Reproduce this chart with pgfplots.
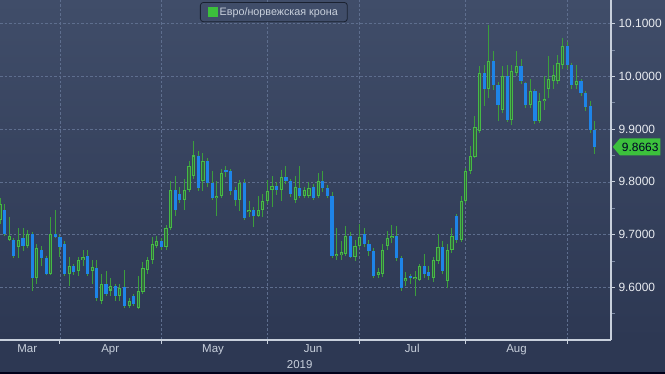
\documentclass[border=0pt]{standalone}
\usepackage{pgfplots}
\pgfplotsset{compat=1.18}
\usepackage{pgfplotstable}
\usepackage{fontspec}
\setmainfont{Liberation Sans}
\usetikzlibrary{shapes.symbols}
\definecolor{bgtop}{HTML}{404D69}
\definecolor{bgbot}{HTML}{2D3853}
\definecolor{gridc}{HTML}{5E6E8E}
\definecolor{upc}{HTML}{46BA46}
\definecolor{upin}{HTML}{35663F}
\definecolor{wickc}{HTML}{3C9E3C}
\definecolor{dnc}{HTML}{1E84E8}
\definecolor{labc}{HTML}{C8D0DC}
\definecolor{ylabc}{HTML}{E8EBF0}
\definecolor{tagc}{HTML}{3CC03C}
\definecolor{legbd}{HTML}{1A2130}

\pgfplotstableread{
k o h l c
0 9.727 9.770 9.720 9.759
2 9.689 9.734 9.687 9.698
4 9.677 9.712 9.655 9.689
6 9.679 9.708 9.674 9.702
8 9.617 9.683 9.607 9.674
11 9.626 9.734 9.624 9.702
15 9.626 9.658 9.603 9.640
17 9.630 9.658 9.621 9.651
18 9.651 9.670 9.641 9.658
20 9.630 9.651 9.607 9.638
22 9.575 9.626 9.569 9.607
24 9.594 9.617 9.584 9.603
26 9.583 9.607 9.575 9.598
28 9.564 9.579 9.560 9.575
30 9.560 9.622 9.558 9.594
31 9.592 9.649 9.588 9.636
32 9.632 9.658 9.626 9.651
33 9.651 9.696 9.645 9.683
34 9.679 9.698 9.674 9.687
36 9.677 9.718 9.670 9.712
37 9.712 9.801 9.708 9.784
40 9.765 9.806 9.746 9.784
41 9.784 9.839 9.780 9.831
42 9.812 9.877 9.806 9.850
44 9.801 9.855 9.782 9.839
47 9.769 9.801 9.736 9.774
48 9.774 9.825 9.769 9.816
52 9.765 9.803 9.744 9.797
54 9.742 9.763 9.734 9.746
56 9.736 9.774 9.734 9.746
57 9.746 9.778 9.734 9.763
58 9.763 9.803 9.759 9.782
59 9.784 9.812 9.753 9.793
61 9.784 9.822 9.763 9.810
64 9.765 9.812 9.759 9.791
66 9.774 9.790 9.770 9.784
67 9.774 9.800 9.770 9.788
69 9.774 9.816 9.770 9.801
73 9.660 9.712 9.651 9.664
74 9.662 9.687 9.651 9.666
75 9.664 9.716 9.660 9.698
77 9.658 9.690 9.650 9.679
78 9.679 9.720 9.674 9.696
82 9.624 9.636 9.618 9.630
83 9.626 9.683 9.620 9.670
84 9.679 9.706 9.670 9.693
85 9.693 9.718 9.685 9.698
88 9.611 9.630 9.603 9.617
90 9.615 9.630 9.584 9.619
91 9.613 9.645 9.611 9.641
94 9.617 9.658 9.611 9.651
95 9.649 9.702 9.645 9.677
97 9.611 9.683 9.598 9.670
98 9.670 9.712 9.665 9.698
100 9.689 9.774 9.685 9.763
101 9.763 9.826 9.759 9.820
102 9.820 9.869 9.815 9.850
103 9.848 9.924 9.845 9.905
104 9.896 10.019 9.892 10.006
106 9.977 10.097 9.960 10.029
109 9.936 10.019 9.930 10.000
111 9.917 10.021 9.907 10.010
112 10.006 10.048 10.000 10.019
115 9.945 9.996 9.940 9.972
117 9.915 9.968 9.912 9.953
118 9.953 10.000 9.936 9.957
119 9.977 10.038 9.960 9.996
120 9.991 10.021 9.977 10.002
121 9.991 10.040 9.985 10.025
122 10.021 10.072 10.015 10.057
125 9.983 10.021 9.977 9.991
}\updata

\pgfplotstableread{
k o h l c
1 9.746 9.759 9.698 9.702
3 9.689 9.693 9.655 9.660
5 9.693 9.712 9.668 9.679
7 9.702 9.705 9.594 9.617
9 9.670 9.679 9.641 9.655
10 9.655 9.660 9.624 9.626
12 9.702 9.746 9.693 9.696
13 9.696 9.700 9.658 9.677
14 9.683 9.687 9.622 9.626
16 9.640 9.645 9.624 9.630
19 9.660 9.670 9.622 9.626
21 9.636 9.651 9.575 9.579
23 9.607 9.630 9.584 9.588
25 9.603 9.607 9.575 9.583
27 9.600 9.632 9.560 9.564
29 9.583 9.588 9.564 9.569
35 9.687 9.693 9.670 9.677
38 9.784 9.812 9.736 9.746
39 9.778 9.790 9.760 9.765
43 9.850 9.858 9.782 9.788
45 9.839 9.845 9.790 9.797
46 9.797 9.820 9.765 9.769
49 9.822 9.830 9.810 9.818
50 9.820 9.824 9.775 9.782
51 9.784 9.790 9.755 9.765
53 9.797 9.805 9.727 9.731
55 9.746 9.752 9.715 9.736
60 9.793 9.800 9.775 9.784
62 9.810 9.831 9.795 9.801
63 9.801 9.806 9.772 9.778
65 9.788 9.831 9.770 9.774
68 9.791 9.795 9.765 9.769
70 9.801 9.820 9.780 9.788
71 9.788 9.795 9.770 9.774
72 9.774 9.780 9.655 9.660
76 9.698 9.705 9.655 9.658
79 9.702 9.712 9.677 9.683
80 9.683 9.690 9.660 9.668
81 9.668 9.675 9.618 9.622
86 9.698 9.716 9.650 9.655
87 9.655 9.660 9.594 9.598
89 9.621 9.626 9.607 9.617
92 9.641 9.664 9.617 9.626
93 9.630 9.640 9.613 9.621
96 9.677 9.687 9.626 9.630
99 9.736 9.740 9.685 9.689
105 10.006 10.021 9.943 9.977
107 10.029 10.048 9.975 9.983
108 9.983 9.990 9.915 9.945
110 10.000 10.021 9.913 9.917
113 10.019 10.033 9.985 9.991
114 9.987 9.990 9.940 9.945
116 9.972 9.976 9.910 9.915
123 10.057 10.065 10.015 10.021
124 10.021 10.025 9.977 9.983
126 9.991 9.996 9.962 9.968
127 9.968 9.972 9.935 9.943
128 9.943 9.953 9.892 9.898
129 9.898 9.915 9.852 9.8663
}\dndata

\pgfplotsset{
  candle/.style={draw=none, mark=none, forget plot,
    error bars/.cd, y dir=both, y explicit, error mark=none},
}

\begin{document}
\begin{tikzpicture}
\shade[top color=bgtop, bottom color=bgbot] (0,34bp) rectangle (665bp,374bp);
\fill[bgbot] (0,0) rectangle (665bp,34.5bp);
\fill[black!90!blue] (0,0) rectangle (665bp,2bp);
\begin{axis}[
  at={(0,34bp)}, anchor=south west,
  scale only axis, width=611bp, height=340bp,
  xmin=0, xmax=132.5, ymin=9.5, ymax=10.145,
  clip mode=individual,
  axis x line*=bottom, axis y line*=right,
  axis line style={-, draw=labc, line width=1.2bp},
  tick align=outside,
  major tick length=4bp, minor tick length=4bp,
  tick style={draw=labc, line width=1bp},
  minor tick style={draw=gridc!80!white, line width=0.8bp},
  xtick={13,35,58,78,101,123}, xticklabels={},
  extra x ticks={5.9,23.9,46.2,67.9,89.4,112},
  extra x tick labels={Mar,Apr,May,Jun,Jul,Aug},
  extra x tick style={grid=none, major tick length=0pt, tick style={draw=none}},
  xticklabel style={font=\fontsize{11.5}{12}\selectfont, text=labc, yshift=-1bp},
  ytick={9.6,9.7,9.8,9.9,10.0,10.1},
  minor ytick={9.55,9.65,9.75,9.85,9.95,10.05},
  /pgf/number format/assume math mode=true,
  yticklabel style={font=\fontsize{12}{12}\selectfont, text=ylabc,
    /pgf/number format/fixed, /pgf/number format/fixed zerofill,
    /pgf/number format/precision=4},
  xmajorgrids, ymajorgrids,
  grid style={draw=gridc, line width=0.7bp, dash pattern=on 2.5bp off 2bp},
  legend style={at={(axis description cs:0.3273,0.994)}, anchor=north west,
    draw=legbd, fill=bgtop, rounded corners=3bp, line width=0.8bp,
    font=\fontsize{10.8}{13}\selectfont, text=labc,
    inner xsep=7.5bp, inner ysep=3bp},
  legend cell align=left,
]
% wicks
\addplot[candle, error bar style={draw=wickc, line width=1bp}]
  table[x=k, y expr={(\thisrow{h}+\thisrow{l})/2}, y error expr={(\thisrow{h}-\thisrow{l})/2}] {\updata};
\addplot[candle, error bar style={draw=wickc, line width=1bp}]
  table[x=k, y expr={(\thisrow{h}+\thisrow{l})/2}, y error expr={(\thisrow{h}-\thisrow{l})/2}] {\dndata};
% down bodies
\addplot[candle, error bar style={draw=dnc, line width=3.2bp}]
  table[x=k, y expr={(\thisrow{o}+\thisrow{c})/2}, y error expr={max((\thisrow{o}-\thisrow{c})/2,0.0012)}] {\dndata};
% up bodies
\addplot[candle, error bar style={draw=upc, line width=3.2bp}]
  table[x=k, y expr={(\thisrow{o}+\thisrow{c})/2}, y error expr={max((\thisrow{c}-\thisrow{o})/2,0.0012)}] {\updata};
\addplot[candle, error bar style={draw=upin, line width=1.2bp}]
  table[x=k, y expr={(\thisrow{o}+\thisrow{c})/2}, y error expr={max((\thisrow{c}-\thisrow{o})/2-0.0019,0)}] {\updata};
% legend entry
\addlegendimage{legend image code/.code={\fill[tagc, sharp corners] (3bp,-4.5bp) rectangle (12bp,4.5bp);}}
\addlegendentry{Евро/норвежская крона}
% year label and price tag
\node[font=\fontsize{11.5}{12}\selectfont, text=labc] at (axis cs:65,9.5) [yshift=-25bp] {2019};
\node[signal, signal to=west, signal pointer angle=100, fill=tagc, text=black!85!blue,
  font=\fontsize{12}{12}\selectfont, minimum height=17bp, inner xsep=2bp, inner ysep=1bp,
  anchor=west] at (axis cs:132.5,9.8663) [xshift=1.5bp] {9.8663};
\end{axis}
\pgfresetboundingbox
\path[use as bounding box] (0,0) rectangle (665bp,374bp);
\end{tikzpicture}
\end{document}
